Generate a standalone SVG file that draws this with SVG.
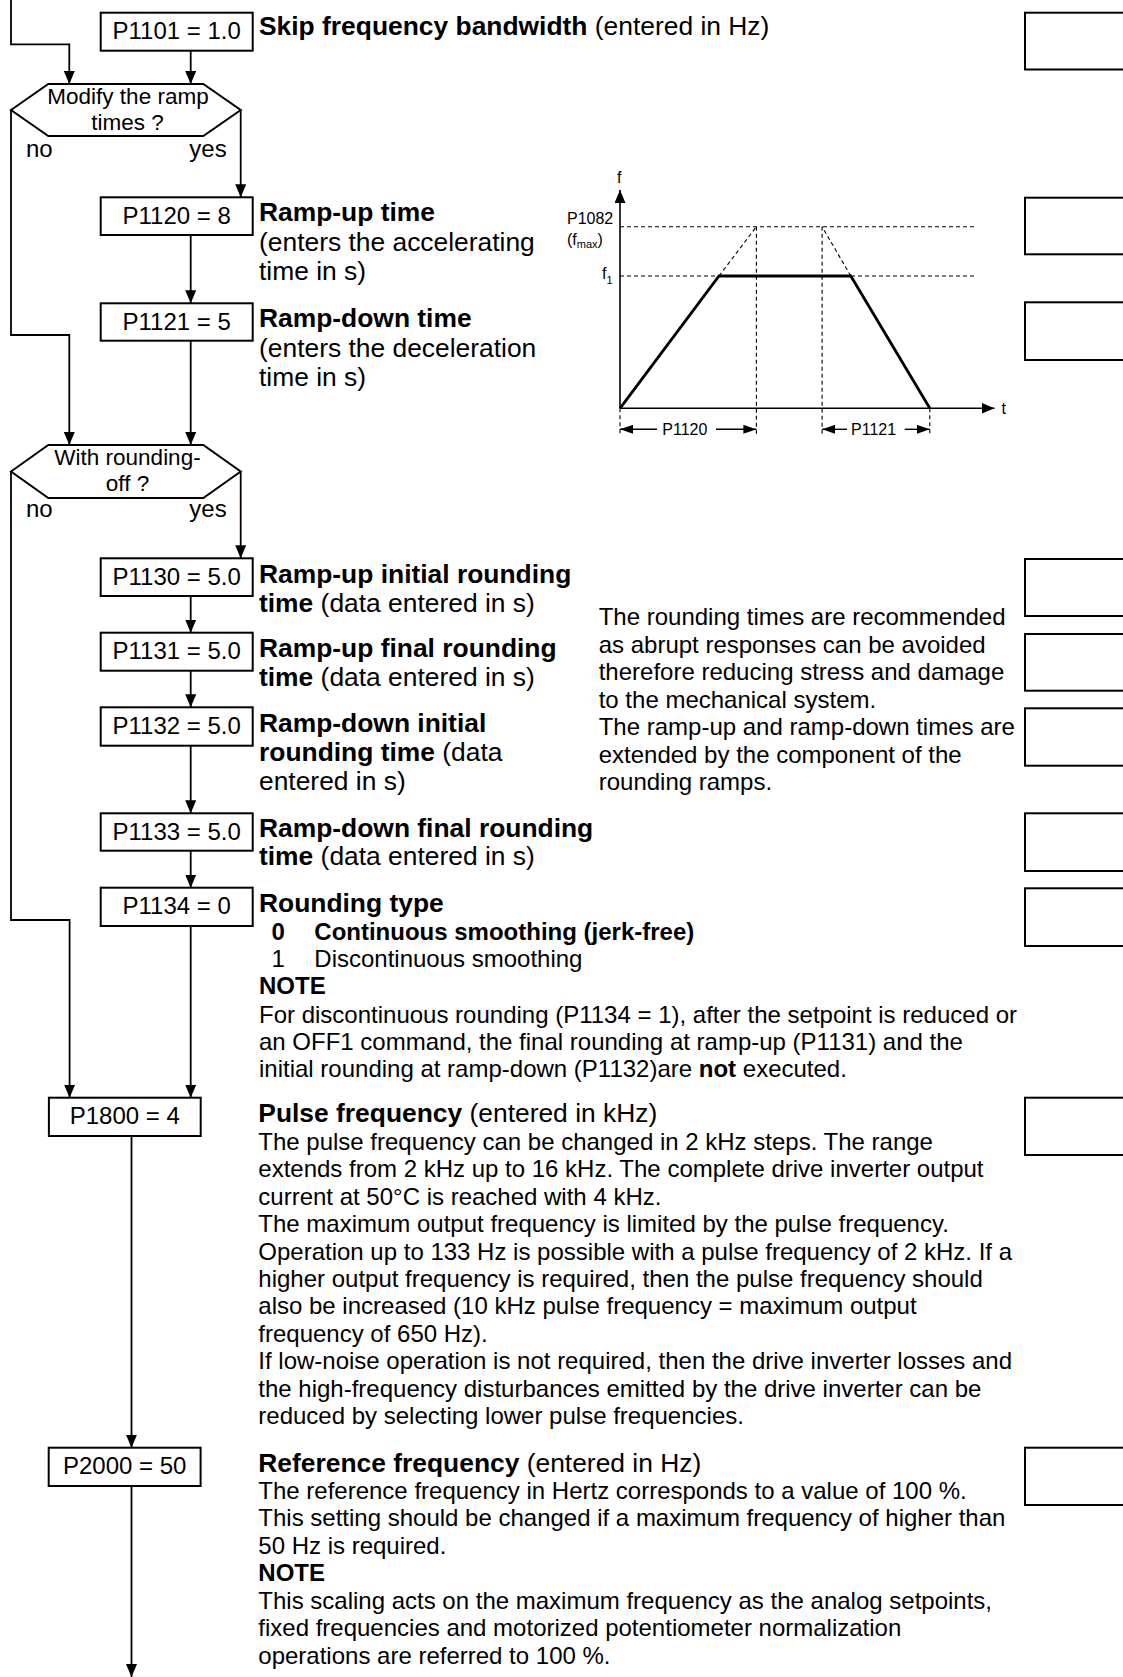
<svg xmlns="http://www.w3.org/2000/svg" width="1123" height="1677" viewBox="0 0 1123 1677">
<style>
text{font-family:"Liberation Sans",Arial,sans-serif;fill:#000}
.h{font-size:26.4px}
.t{font-size:24px}
.bx{font-size:24px;text-anchor:middle}
.hx{font-size:22.5px;text-anchor:middle}
.c{font-size:16px}
.bold{font-weight:bold}
.box{fill:#fff;stroke:#000;stroke-width:2}
.rbox{fill:none;stroke:#000;stroke-width:2}
.arr{fill:none;stroke:#000;stroke-width:1.8;marker-end:url(#ah)}
.dash{fill:none;stroke:#000;stroke-width:1.1;stroke-dasharray:4 3}
</style>
<defs>
<marker id="ah" markerUnits="userSpaceOnUse" markerWidth="13" markerHeight="11" refX="13" refY="5.5" orient="auto">
<path d="M0,0 L13,5.5 L0,11 z" fill="#000"/>
</marker>
<marker id="dh" markerUnits="userSpaceOnUse" markerWidth="13" markerHeight="9" refX="13" refY="4.5" orient="auto">
<path d="M0,0 L13,4.5 L0,9 z" fill="#000"/>
</marker>
</defs>

<g id="connectors">
<path class="arr" d="M11,0 V44.3 H69.3 V84"/>
<path class="arr" d="M190.7,50.7 V84"/>
<path class="arr" d="M240.7,110 V197.3"/>
<path class="arr" d="M190.7,235 V303.3"/>
<path class="arr" d="M11,110 V335 H69.3 V445"/>
<path class="arr" d="M190.7,340.7 V445"/>
<path class="arr" d="M240.7,471.5 V558.3"/>
<path class="arr" d="M190.7,596 V632.7"/>
<path class="arr" d="M190.7,670.7 V707.3"/>
<path class="arr" d="M190.7,745.7 V813.3"/>
<path class="arr" d="M190.7,850.7 V887.7"/>
<path class="arr" d="M11,471.5 V920 H69.6 V1097.7"/>
<path class="arr" d="M190.7,926 V1097.7"/>
<path class="arr" d="M131.5,1136 V1447.7"/>
<path class="arr" d="M131.5,1486 V1677"/>
</g>

<g id="p1101">
<rect class="box" x="100.7" y="12.7" width="152" height="38"/>
<text class="bx" x="176.7" y="39.3">P1101 = 1.0</text>
<text class="h" x="259" y="35"><tspan class="bold">Skip frequency bandwidth</tspan> (entered in Hz)</text>
<rect class="rbox" x="1025" y="12.7" width="120" height="56.8"/>
</g>

<g id="q-ramp">
<polygon class="box" points="11,110 48.3,84 203.3,84 240.7,110 203.3,136 48.3,136"/>
<text class="hx" x="128" y="104.3">Modify the ramp</text>
<text class="hx" x="127.5" y="129.6">times ?</text>
<text class="t" x="26" y="156.7">no</text>
<text class="t" x="189.3" y="156.7">yes</text>
</g>

<g id="p1120">
<rect class="box" x="100.7" y="197.3" width="152" height="37.7"/>
<text class="bx" x="176.7" y="223.5">P1120 = 8</text>
<text class="h" x="259" y="220.7"><tspan class="bold">Ramp-up time</tspan></text>
<text class="h" x="259" y="250.5">(enters the accelerating</text>
<text class="h" x="259" y="280">time in s)</text>
<rect class="rbox" x="1025" y="197.7" width="120" height="56.6"/>
</g>

<g id="p1121">
<rect class="box" x="100.7" y="303.3" width="152" height="37.4"/>
<text class="bx" x="176.7" y="329.5">P1121 = 5</text>
<text class="h" x="259" y="327"><tspan class="bold">Ramp-down time</tspan></text>
<text class="h" x="259" y="356.5">(enters the deceleration</text>
<text class="h" x="259" y="386">time in s)</text>
<rect class="rbox" x="1025" y="302.3" width="120" height="57.7"/>
</g>

<g id="chart">
<line class="dash" x1="620" y1="226.7" x2="974.7" y2="226.7"/>
<line class="dash" x1="620" y1="276" x2="974.7" y2="276"/>
<line class="dash" x1="719" y1="276" x2="756.4" y2="226.7"/>
<line class="dash" x1="850.8" y1="276" x2="822.1" y2="226.7"/>
<line class="dash" x1="756.4" y1="226.7" x2="756.4" y2="436"/>
<line class="dash" x1="822.1" y1="226.7" x2="822.1" y2="436"/>
<line class="dash" x1="620" y1="408.3" x2="620" y2="436"/>
<line class="dash" x1="929.8" y1="408.3" x2="929.8" y2="436"/>
<path d="M620,408.3 V190" fill="none" stroke="#000" stroke-width="1.6" marker-end="url(#ah)"/>
<path d="M620,408.3 H994.5" fill="none" stroke="#000" stroke-width="1.6" marker-end="url(#ah)"/>
<path d="M620,408.3 L719,276 H850.8 L929.8,408.3" fill="none" stroke="#000" stroke-width="2.8"/>
<path d="M657,429.3 H620" fill="none" stroke="#000" stroke-width="1.4" marker-end="url(#dh)"/>
<path d="M716,429.3 H756.4" fill="none" stroke="#000" stroke-width="1.4" marker-end="url(#dh)"/>
<path d="M847,429.3 H822.1" fill="none" stroke="#000" stroke-width="1.4" marker-end="url(#dh)"/>
<path d="M904.7,429.3 H929.8" fill="none" stroke="#000" stroke-width="1.4" marker-end="url(#dh)"/>
<text class="c" x="617" y="183.3">f</text>
<text class="c" x="1001.6" y="414">t</text>
<text class="c" x="567" y="224">P1082</text>
<text class="c" x="567" y="245">(f<tspan font-size="11" dy="3">max</tspan><tspan dy="-3">)</tspan></text>
<text class="c" x="602" y="279.3">f<tspan font-size="11" dy="5">1</tspan></text>
<text class="c" x="662.3" y="435">P1120</text>
<text class="c" x="851" y="435">P1121</text>
</g>

<g id="q-round">
<polygon class="box" points="11,471.5 48.3,445 203.3,445 240.7,471.5 203.3,498 48.3,498"/>
<text class="hx" x="127.5" y="465.3">With rounding-</text>
<text class="hx" x="127.5" y="490.6">off ?</text>
<text class="t" x="26" y="516.7">no</text>
<text class="t" x="189.3" y="516.7">yes</text>
</g>

<g id="p1130">
<rect class="box" x="100.7" y="558.3" width="152" height="37.7"/>
<text class="bx" x="176.7" y="584.5">P1130 = 5.0</text>
<text class="h" x="259" y="583.3"><tspan class="bold">Ramp-up initial rounding</tspan></text>
<text class="h" x="259" y="611.7"><tspan class="bold">time</tspan> (data entered in s)</text>
<rect class="rbox" x="1025" y="559" width="120" height="57"/>
</g>

<g id="p1131">
<rect class="box" x="100.7" y="632.7" width="152" height="38"/>
<text class="bx" x="176.7" y="659">P1131 = 5.0</text>
<text class="h" x="259" y="657.3"><tspan class="bold">Ramp-up final rounding</tspan></text>
<text class="h" x="259" y="686"><tspan class="bold">time</tspan> (data entered in s)</text>
<rect class="rbox" x="1025" y="634" width="120" height="56.7"/>
</g>

<g id="p1132">
<rect class="box" x="100.7" y="707.3" width="152" height="38.4"/>
<text class="bx" x="176.7" y="733.7">P1132 = 5.0</text>
<text class="h" x="259" y="731.7"><tspan class="bold">Ramp-down initial</tspan></text>
<text class="h" x="259" y="761"><tspan class="bold">rounding time</tspan> (data</text>
<text class="h" x="259" y="790">entered in s)</text>
<rect class="rbox" x="1025" y="708.3" width="120" height="57.4"/>
</g>

<g id="note-rounding">
<text class="t" x="598.7" y="625">The rounding times are recommended</text>
<text class="t" x="598.7" y="652.5">as abrupt responses can be avoided</text>
<text class="t" x="598.7" y="680">therefore reducing stress and damage</text>
<text class="t" x="598.7" y="707.5">to the mechanical system.</text>
<text class="t" x="598.7" y="735">The ramp-up and ramp-down times are</text>
<text class="t" x="598.7" y="762.5">extended by the component of the</text>
<text class="t" x="598.7" y="790">rounding ramps.</text>
</g>

<g id="p1133">
<rect class="box" x="100.7" y="813.3" width="152" height="37.4"/>
<text class="bx" x="176.7" y="839.5">P1133 = 5.0</text>
<text class="h" x="259" y="836.7"><tspan class="bold">Ramp-down final rounding</tspan></text>
<text class="h" x="259" y="865"><tspan class="bold">time</tspan> (data entered in s)</text>
<rect class="rbox" x="1025" y="813.3" width="120" height="57.7"/>
</g>

<g id="p1134">
<rect class="box" x="100.7" y="887.7" width="152" height="38.3"/>
<text class="bx" x="176.7" y="914">P1134 = 0</text>
<text class="h bold" x="259" y="911.7">Rounding type</text>
<text class="t bold" x="271.4" y="940">0</text>
<text class="t bold" x="314.3" y="940">Continuous smoothing (jerk-free)</text>
<text class="t" x="271.4" y="967.3">1</text>
<text class="t" x="314.3" y="967.3">Discontinuous smoothing</text>
<text class="t bold" x="259" y="994">NOTE</text>
<text class="t" x="259" y="1022.5">For discontinuous rounding (P1134 = 1), after the setpoint is reduced or</text>
<text class="t" x="259" y="1050">an OFF1 command, the final rounding at ramp-up (P1131) and the</text>
<text class="t" x="259" y="1077.3">initial rounding at ramp-down (P1132)are <tspan class="bold">not</tspan> executed.</text>
<rect class="rbox" x="1025" y="888.3" width="120" height="57.7"/>
</g>

<g id="p1800">
<rect class="box" x="48.9" y="1097.7" width="151.8" height="38.3"/>
<text class="bx" x="124.8" y="1124">P1800 = 4</text>
<text class="h" x="258.3" y="1122"><tspan class="bold">Pulse frequency</tspan> (entered in kHz)</text>
<text class="t" x="258.3" y="1150">The pulse frequency can be changed in 2 kHz steps. The range</text>
<text class="t" x="258.3" y="1177.4">extends from 2 kHz up to 16 kHz. The complete drive inverter output</text>
<text class="t" x="258.3" y="1204.8">current at 50°C is reached with 4 kHz.</text>
<text class="t" x="258.3" y="1232.2">The maximum output frequency is limited by the pulse frequency.</text>
<text class="t" x="258.3" y="1259.6">Operation up to 133 Hz is possible with a pulse frequency of 2 kHz. If a</text>
<text class="t" x="258.3" y="1287">higher output frequency is required, then the pulse frequency should</text>
<text class="t" x="258.3" y="1314.4">also be increased (10 kHz pulse frequency = maximum output</text>
<text class="t" x="258.3" y="1341.8">frequency of 650 Hz).</text>
<text class="t" x="258.3" y="1369.2">If low-noise operation is not required, then the drive inverter losses and</text>
<text class="t" x="258.3" y="1396.6">the high-frequency disturbances emitted by the drive inverter can be</text>
<text class="t" x="258.3" y="1424">reduced by selecting lower pulse frequencies.</text>
<rect class="rbox" x="1025" y="1097.7" width="120" height="57.3"/>
</g>

<g id="p2000">
<rect class="box" x="48.7" y="1447.7" width="151.9" height="38.3"/>
<text class="bx" x="124.7" y="1474">P2000 = 50</text>
<text class="h" x="258.3" y="1472"><tspan class="bold">Reference frequency</tspan> (entered in Hz)</text>
<text class="t" x="258.3" y="1498.7">The reference frequency in Hertz corresponds to a value of 100 %.</text>
<text class="t" x="258.3" y="1526.2">This setting should be changed if a maximum frequency of higher than</text>
<text class="t" x="258.3" y="1553.7">50 Hz is required.</text>
<text class="t bold" x="258.3" y="1581.2">NOTE</text>
<text class="t" x="258.3" y="1608.7">This scaling acts on the maximum frequency as the analog setpoints,</text>
<text class="t" x="258.3" y="1636.2">fixed frequencies and motorized potentiometer normalization</text>
<text class="t" x="258.3" y="1663.7">operations are referred to 100 %.</text>
<rect class="rbox" x="1025" y="1447.7" width="120" height="57.3"/>
</g>
</svg>
